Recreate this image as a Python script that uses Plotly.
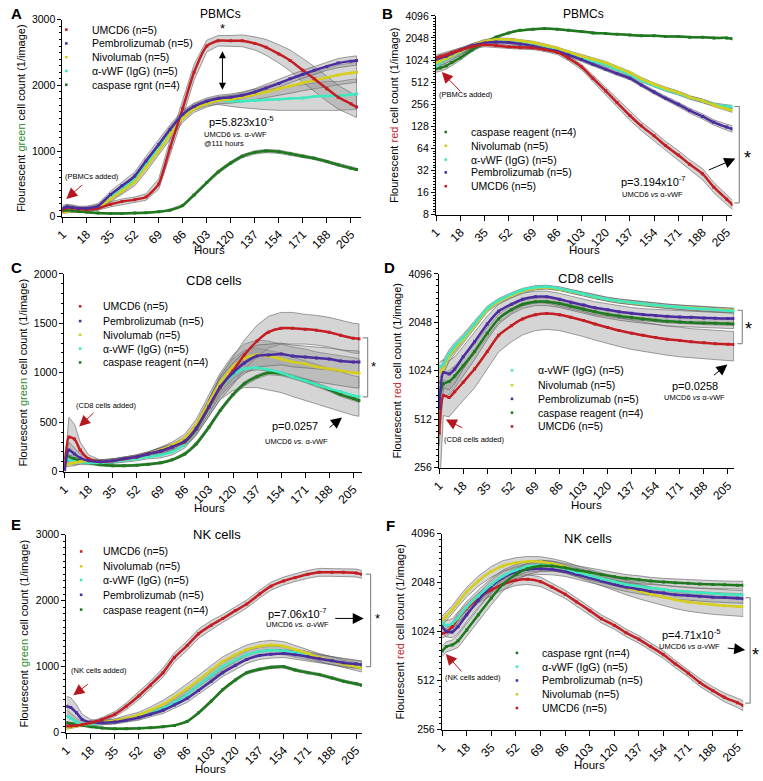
import math
import plotly.graph_objects as go

FONT = "Liberation Sans, Arial, sans-serif"
W, H = 763, 781

hours = [1, 4, 8, 12, 18, 26, 35, 43, 52, 60, 69, 77, 86, 94, 103, 111, 120, 128, 137, 145, 154, 162, 171, 179, 188, 196, 205, 209]
tick_hours = [1, 18, 35, 52, 69, 86, 103, 120, 137, 154, 171, 188, 205]

# ---------------- Panel A: PBMCs, green count ----------------
a_umcd6 = [100, 140, 130, 120, 110, 130, 190, 230, 260, 300, 500, 1050, 1650, 2200, 2600, 2680, 2680, 2680, 2640, 2580, 2480, 2380, 2230, 2100, 1950, 1820, 1720, 1670]
a_pembro = [130, 150, 140, 130, 130, 160, 340, 470, 620, 850, 1100, 1330, 1560, 1680, 1760, 1800, 1820, 1850, 1900, 1960, 2030, 2100, 2170, 2230, 2290, 2340, 2370, 2380]
a_nivo = [70, 80, 90, 100, 110, 140, 270, 390, 530, 750, 1000, 1250, 1500, 1640, 1720, 1770, 1790, 1820, 1860, 1900, 1950, 1990, 2040, 2080, 2120, 2160, 2190, 2200]
a_vwf = [100, 110, 110, 110, 115, 140, 300, 420, 570, 800, 1050, 1300, 1540, 1670, 1740, 1770, 1760, 1760, 1770, 1780, 1790, 1800, 1810, 1830, 1840, 1840, 1860, 1870]
a_casp = [90, 100, 90, 80, 70, 55, 50, 50, 55, 60, 75, 100, 170, 330, 520, 680, 820, 920, 980, 1000, 990, 960, 920, 890, 840, 790, 740, 720]
a_umcd6_e = [30, 40, 40, 30, 30, 30, 40, 40, 40, 50, 80, 120, 130, 120, 90, 80, 80, 90, 100, 120, 140, 160, 180, 190, 190, 180, 170, 160]
a_pembro_e = [40, 40, 40, 30, 30, 40, 50, 60, 60, 70, 70, 70, 60, 50, 50, 50, 50, 50, 50, 60, 60, 60, 60, 60, 60, 70, 70, 70]
a_nivo_e = [20, 20, 20, 20, 20, 30, 40, 50, 60, 70, 70, 70, 60, 50, 50, 50, 60, 70, 80, 90, 100, 110, 120, 130, 140, 150, 150, 150]
a_vwf_e = [30, 30, 30, 30, 30, 40, 50, 60, 60, 70, 70, 70, 60, 50, 50, 60, 80, 100, 130, 150, 170, 190, 200, 210, 220, 220, 230, 230]
a_casp_e = [20, 20, 15, 15, 10, 10, 10, 10, 10, 10, 10, 15, 20, 25, 25, 25, 25, 25, 25, 25, 25, 25, 20, 20, 20, 20, 20, 20]

# ---------------- Panel B: PBMCs, red count (log) ----------------
b_casp = [780, 800, 850, 950, 1100, 1400, 1750, 2100, 2400, 2600, 2700, 2750, 2700, 2600, 2500, 2400, 2350, 2300, 2250, 2200, 2200, 2150, 2150, 2100, 2100, 2050, 2050, 2000]
b_nivo = [950, 1000, 1080, 1180, 1350, 1600, 1850, 1950, 1950, 1880, 1780, 1640, 1480, 1320, 1160, 1050, 940, 810, 690, 570, 480, 420, 370, 320, 285, 250, 220, 210]
b_vwf = [850, 950, 1050, 1150, 1320, 1580, 1820, 1930, 1930, 1850, 1740, 1600, 1440, 1270, 1110, 990, 880, 760, 650, 540, 460, 405, 360, 315, 285, 255, 240, 235]
b_pembro = [1050, 1100, 1150, 1250, 1400, 1600, 1750, 1800, 1780, 1700, 1580, 1450, 1350, 1200, 1040, 900, 770, 670, 580, 470, 375, 310, 255, 210, 175, 145, 125, 118]
b_umcd6 = [1100, 1150, 1200, 1300, 1400, 1550, 1650, 1620, 1550, 1520, 1500, 1420, 1300, 1080, 830, 580, 390, 270, 180, 130, 95, 70, 52, 39, 29, 19, 13, 11]
b_casp_e = [80, 80, 80, 80, 80, 80, 80, 80, 60, 50, 50, 50, 50, 50, 40, 40, 40, 40, 40, 40, 40, 40, 40, 40, 40, 40, 40, 40]
b_nivo_e = [100, 100, 100, 100, 100, 100, 100, 90, 80, 70, 70, 60, 60, 50, 50, 40, 40, 35, 30, 25, 20, 20, 18, 15, 15, 12, 12, 12]
b_vwf_e = [100, 100, 100, 100, 100, 100, 100, 90, 80, 70, 70, 60, 60, 50, 50, 40, 40, 35, 30, 25, 20, 20, 18, 15, 15, 12, 12, 12]
b_pembro_e = [100, 100, 100, 100, 100, 100, 100, 90, 80, 80, 70, 70, 60, 60, 50, 45, 40, 35, 30, 25, 22, 20, 18, 16, 14, 12, 12, 12]
b_umcd6_e = [100, 100, 100, 100, 100, 100, 100, 90, 80, 80, 80, 80, 80, 80, 70, 60, 45, 35, 25, 18, 13, 10, 8, 6, 5, 3, 2, 1.5]

# ---------------- Panel C: CD8 cells, green count ----------------
c_umcd6 = [30, 350, 330, 220, 130, 100, 110, 130, 150, 180, 210, 250, 300, 430, 650, 850, 1020, 1180, 1320, 1410, 1450, 1450, 1440, 1430, 1410, 1380, 1350, 1345]
c_pembro = [20, 220, 180, 140, 110, 100, 110, 130, 150, 180, 210, 250, 310, 440, 660, 860, 1000, 1100, 1170, 1180, 1190, 1170, 1160, 1150, 1140, 1120, 1110, 1110]
c_nivo = [60, 80, 90, 100, 110, 100, 110, 125, 150, 180, 220, 270, 340, 480, 700, 900, 1060, 1150, 1180, 1170, 1140, 1110, 1090, 1060, 1040, 1020, 1000, 995]
c_vwf = [180, 120, 100, 95, 90, 90, 100, 115, 130, 150, 170, 200, 280, 420, 640, 850, 980, 1040, 1050, 1030, 1000, 960, 920, 880, 840, 810, 770, 760]
c_casp = [140, 150, 130, 110, 90, 70, 60, 60, 65, 75, 90, 120, 180, 280, 450, 620, 780, 890, 960, 1000, 990, 960, 920, 880, 830, 780, 740, 720]
c_umcd6_e = [10, 200, 150, 80, 40, 20, 20, 20, 20, 20, 30, 30, 40, 60, 90, 120, 140, 150, 160, 160, 160, 160, 150, 150, 150, 150, 150, 150]
c_pembro_e = [10, 80, 60, 40, 20, 20, 20, 20, 20, 20, 30, 30, 40, 50, 70, 90, 100, 110, 110, 110, 110, 110, 110, 110, 110, 110, 110, 110]
c_nivo_e = [10, 30, 30, 20, 20, 20, 20, 20, 20, 20, 30, 30, 40, 50, 80, 100, 120, 140, 150, 150, 150, 150, 150, 150, 150, 150, 150, 150]
c_vwf_e = [10, 40, 30, 20, 20, 20, 20, 20, 20, 20, 30, 30, 40, 50, 80, 120, 160, 190, 200, 200, 200, 200, 200, 200, 200, 200, 200, 200]
c_casp_e = [10, 20, 20, 15, 10, 10, 10, 10, 10, 10, 10, 10, 15, 20, 20, 20, 20, 20, 20, 20, 20, 20, 20, 20, 20, 20, 20, 20]

# ---------------- Panel D: CD8 cells, red count (log) ----------------
d_vwf = [1080, 1120, 1300, 1450, 1650, 2000, 2500, 2800, 3050, 3250, 3380, 3400, 3320, 3200, 3070, 2950, 2850, 2780, 2720, 2670, 2620, 2580, 2540, 2500, 2480, 2450, 2420, 2410]
d_nivo = [1000, 1060, 1250, 1400, 1600, 1950, 2450, 2750, 3000, 3200, 3340, 3370, 3300, 3180, 3060, 2940, 2840, 2770, 2710, 2660, 2610, 2570, 2540, 2510, 2490, 2460, 2440, 2430]
d_pembro = [600, 1000, 980, 1050, 1250, 1550, 2000, 2400, 2650, 2850, 2950, 2950, 2850, 2730, 2620, 2520, 2450, 2380, 2330, 2290, 2260, 2230, 2210, 2200, 2180, 2170, 2160, 2160]
d_casp = [700, 850, 880, 950, 1100, 1350, 1750, 2150, 2450, 2650, 2750, 2750, 2680, 2580, 2470, 2380, 2300, 2240, 2190, 2150, 2110, 2080, 2060, 2040, 2030, 2020, 2010, 2000]
d_umcd6 = [420, 720, 700, 760, 870, 1050, 1350, 1700, 1950, 2150, 2280, 2320, 2280, 2200, 2100, 2000, 1900, 1820, 1750, 1700, 1650, 1610, 1580, 1550, 1530, 1510, 1495, 1490]
d_vwf_e = [80, 80, 80, 80, 80, 80, 80, 80, 80, 80, 80, 80, 80, 80, 80, 80, 80, 80, 80, 80, 80, 80, 80, 80, 80, 80, 80, 80]
d_nivo_e = [80, 80, 80, 80, 80, 80, 80, 80, 80, 80, 80, 80, 80, 80, 80, 80, 80, 80, 80, 80, 80, 80, 80, 80, 80, 80, 80, 80]
d_pembro_e = [250, 200, 200, 200, 200, 220, 240, 250, 250, 250, 250, 250, 250, 250, 240, 230, 220, 210, 200, 200, 200, 200, 200, 200, 200, 200, 200, 200]
d_casp_e = [150, 150, 150, 150, 150, 150, 150, 150, 150, 150, 150, 150, 150, 150, 140, 140, 130, 130, 130, 130, 130, 130, 130, 130, 130, 130, 130, 130]
d_umcd6_e = [250, 180, 170, 180, 200, 250, 300, 360, 400, 440, 460, 470, 460, 450, 430, 410, 390, 370, 360, 350, 340, 330, 330, 320, 320, 310, 310, 310]

# ---------------- Panel E: NK cells, green count ----------------
e_umcd6 = [100, 100, 110, 120, 150, 200, 280, 400, 560, 720, 910, 1140, 1320, 1500, 1630, 1730, 1850, 1950, 2100, 2220, 2300, 2350, 2400, 2430, 2430, 2430, 2420, 2400]
e_nivo = [70, 90, 100, 120, 150, 160, 180, 220, 270, 340, 430, 540, 670, 800, 950, 1080, 1180, 1260, 1310, 1330, 1310, 1260, 1200, 1140, 1090, 1040, 1000, 980]
e_vwf = [250, 220, 160, 130, 130, 150, 170, 200, 240, 300, 370, 460, 580, 720, 870, 1000, 1100, 1180, 1230, 1250, 1240, 1210, 1170, 1130, 1090, 1060, 1030, 1020]
e_pembro = [400, 380, 300, 200, 160, 150, 160, 190, 230, 280, 340, 420, 520, 640, 780, 910, 1020, 1110, 1170, 1190, 1200, 1180, 1150, 1120, 1090, 1060, 1040, 1030]
e_casp = [150, 140, 130, 110, 90, 70, 60, 60, 65, 75, 90, 110, 170, 300, 480, 650, 800, 910, 960, 990, 1000, 950, 910, 880, 830, 780, 740, 720]
e_umcd6_e = [20, 20, 20, 20, 20, 30, 40, 50, 60, 60, 70, 70, 70, 70, 70, 60, 60, 60, 60, 60, 60, 60, 60, 60, 60, 60, 60, 60]
e_nivo_e = [20, 20, 20, 20, 20, 20, 30, 40, 40, 50, 60, 60, 70, 70, 70, 70, 70, 70, 70, 70, 70, 60, 60, 60, 60, 60, 60, 60]
e_vwf_e = [100, 80, 60, 40, 30, 30, 30, 30, 40, 40, 50, 50, 60, 60, 60, 60, 60, 60, 60, 60, 60, 60, 60, 60, 60, 60, 60, 60]
e_pembro_e = [150, 150, 120, 80, 40, 30, 30, 30, 40, 40, 50, 50, 60, 60, 60, 60, 60, 60, 60, 60, 60, 60, 60, 60, 60, 60, 60, 60]
e_casp_e = [20, 20, 15, 15, 10, 10, 10, 10, 10, 10, 10, 10, 15, 20, 20, 20, 20, 20, 20, 20, 20, 20, 20, 20, 20, 20, 20, 20]

# ---------------- Panel F: NK cells, red count (log) ----------------
f_casp = [780, 830, 850, 900, 1050, 1300, 1650, 2000, 2300, 2500, 2600, 2600, 2530, 2450, 2380, 2300, 2230, 2180, 2140, 2100, 2070, 2050, 2030, 2010, 2000, 1990, 1980, 1980]
f_vwf = [1170, 1120, 1150, 1250, 1450, 1700, 2000, 2250, 2450, 2580, 2620, 2600, 2500, 2380, 2270, 2170, 2080, 2000, 1950, 1900, 1860, 1830, 1800, 1780, 1760, 1740, 1730, 1720]
f_pembro = [1100, 1030, 1020, 1100, 1300, 1600, 1950, 2200, 2380, 2480, 2500, 2470, 2400, 2300, 2200, 2100, 2000, 1930, 1870, 1810, 1770, 1730, 1710, 1690, 1670, 1660, 1650, 1640]
f_nivo = [1200, 1280, 1400, 1550, 1800, 2100, 2400, 2600, 2720, 2770, 2760, 2680, 2560, 2420, 2280, 2150, 2030, 1920, 1820, 1740, 1670, 1610, 1560, 1530, 1500, 1480, 1465, 1460]
f_umcd6 = [1000, 1020, 1100, 1250, 1420, 1650, 1850, 2000, 2120, 2150, 2080, 1920, 1740, 1560, 1380, 1230, 1120, 1010, 920, 830, 740, 650, 570, 500, 445, 405, 375, 360]
f_casp_e = [60, 60, 60, 80, 100, 120, 150, 180, 200, 200, 200, 180, 160, 150, 140, 130, 120, 120, 120, 110, 110, 110, 110, 110, 110, 110, 110, 110]
f_vwf_e = [80, 80, 80, 100, 120, 150, 180, 200, 200, 200, 200, 180, 160, 150, 140, 130, 120, 120, 120, 110, 110, 110, 110, 110, 110, 110, 110, 110]
f_pembro_e = [80, 80, 80, 100, 120, 150, 180, 200, 200, 200, 200, 180, 160, 150, 140, 130, 120, 120, 120, 110, 110, 110, 110, 110, 110, 110, 110, 110]
f_nivo_e = [80, 80, 80, 100, 120, 150, 180, 200, 200, 200, 200, 200, 200, 190, 190, 190, 190, 190, 190, 190, 190, 190, 190, 190, 190, 190, 190, 190]
f_umcd6_e = [60, 60, 70, 80, 100, 120, 140, 150, 150, 150, 140, 120, 100, 90, 80, 70, 60, 55, 50, 45, 40, 35, 30, 28, 25, 25, 25, 25]

COL = {
    "umcd6": "#C41E25",
    "pembro": "#4B2D9F",
    "nivo": "#D6CE1E",
    "vwf": "#40E8C0",
    "casp": "#1F7A1F",
}

def px(x):
    return x / W

def py(y):
    return 1 - y / H

panels = [
    dict(n=1, letter="A", title="PBMCs", tsize=12, tpos=(215, 8), lpos=(1, 8), hpos=(204, 248),
         dom=((55, 357), (14, 214)), xr=[0.8, 212], log=False, yr=[0, 3000], yt=[0, 1000, 2000, 3000], minor=100,
         ytitle="green",
         series=[("vwf", a_vwf, a_vwf_e), ("nivo", a_nivo, a_nivo_e), ("casp", a_casp, a_casp_e),
                 ("umcd6", a_umcd6, a_umcd6_e), ("pembro", a_pembro, a_pembro_e)],
         legend=[("umcd6", "UMCD6 (n=5)"), ("pembro", "Pembrolizumab (n=5)"), ("nivo", "Nivolumab (n=5)"),
                 ("vwf", "α-vWF (IgG) (n=5)"), ("casp", "caspase rgnt (n=4)")],
         leg_x=(59, 83), leg_y=[24, 38, 52, 66, 80]),
    dict(n=2, letter="B", title="PBMCs", tsize=12, tpos=(582, 8), lpos=(376, 8), hpos=(583, 248),
         dom=((433, 733), (10, 212)), xr=[0.8, 209], log=True, yr=[8, 4096], yt=[8, 16, 32, 64, 128, 256, 512, 1024, 2048, 4096],
         ytitle="red",
         series=[("casp", b_casp, b_casp_e), ("vwf", b_vwf, b_vwf_e), ("nivo", b_nivo, b_nivo_e),
                 ("pembro", b_pembro, b_pembro_e), ("umcd6", b_umcd6, b_umcd6_e)],
         legend=[("casp", "caspase reagent (n=4)"), ("nivo", "Nivolumab (n=5)"), ("vwf", "α-vWF (IgG) (n=5)"),
                 ("pembro", "Pembrolizumab (n=5)"), ("umcd6", "UMCD6 (n=5)")],
         leg_x=(443, 466), leg_y=[128, 142, 156, 169, 183]),
    dict(n=3, letter="C", title="CD8 cells", tsize=13, tpos=(208, 279), lpos=(1, 266), hpos=(204, 510),
         dom=((57, 358), (272, 473)), xr=[0.8, 211], log=False, yr=[0, 2000], yt=[0, 500, 1000, 1500, 2000], minor=100,
         ytitle="green",
         series=[("casp", c_casp, c_casp_e), ("vwf", c_vwf, c_vwf_e), ("nivo", c_nivo, c_nivo_e),
                 ("umcd6", c_umcd6, c_umcd6_e), ("pembro", c_pembro, c_pembro_e)],
         legend=[("umcd6", "UMCD6 (n=5)"), ("pembro", "Pembrolizumab (n=5)"), ("nivo", "Nivolumab (n=5)"),
                 ("vwf", "α-vWF (IgG) (n=5)"), ("casp", "caspase reagent (n=4)")],
         leg_x=(73, 94), leg_y=[305, 320, 334, 348, 362]),
    dict(n=4, letter="D", title="CD8 cells", tsize=13, tpos=(585, 277), lpos=(378, 266), hpos=(585, 507),
         dom=((436, 735), (272, 469)), xr=[0.8, 209.5], log=True, yr=[256, 4096], yt=[256, 512, 1024, 2048, 4096],
         ytitle="red",
         series=[("umcd6", d_umcd6, d_umcd6_e), ("casp", d_casp, d_casp_e), ("pembro", d_pembro, d_pembro_e),
                 ("nivo", d_nivo, d_nivo_e), ("vwf", d_vwf, d_vwf_e)],
         legend=[("vwf", "α-vWF (IgG) (n=5)"), ("nivo", "Nivolumab (n=5)"), ("pembro", "Pembrolizumab (n=5)"),
                 ("casp", "caspase reagent (n=4)"), ("umcd6", "UMCD6 (n=5)")],
         leg_x=(510, 534), leg_y=[370, 385, 399, 413, 427]),
    dict(n=5, letter="E", title="NK cells", tsize=13, tpos=(212, 537), lpos=(1, 527), hpos=(205, 775),
         dom=((59, 358), (537, 738)), xr=[0.8, 209], log=False, yr=[0, 3000], yt=[0, 1000, 2000, 3000], minor=100,
         ytitle="green",
         series=[("casp", e_casp, e_casp_e), ("vwf", e_vwf, e_vwf_e), ("nivo", e_nivo, e_nivo_e),
                 ("pembro", e_pembro, e_pembro_e), ("umcd6", e_umcd6, e_umcd6_e)],
         legend=[("umcd6", "UMCD6 (n=5)"), ("nivo", "Nivolumab (n=5)"), ("vwf", "α-vWF (IgG) (n=5)"),
                 ("pembro", "Pembrolizumab (n=5)"), ("casp", "caspase reagent (n=4)")],
         leg_x=(74, 94), leg_y=[554, 569, 583, 598, 613]),
    dict(n=6, letter="F", title="NK cells", tsize=13, tpos=(587, 541), lpos=(380, 528), hpos=(588, 771),
         dom=((439, 744), (536, 735)), xr=[0.8, 209], log=True, yr=[256, 4096], yt=[256, 512, 1024, 2048, 4096],
         ytitle="red",
         series=[("umcd6", f_umcd6, f_umcd6_e), ("nivo", f_nivo, f_nivo_e), ("pembro", f_pembro, f_pembro_e),
                 ("vwf", f_vwf, f_vwf_e), ("casp", f_casp, f_casp_e)],
         legend=[("casp", "caspase rgnt (n=4)"), ("vwf", "α-vWF (IgG) (n=5)"), ("pembro", "Pembrolizumab (n=5)"),
                 ("nivo", "Nivolumab (n=5)"), ("umcd6", "UMCD6 (n=5)")],
         leg_x=(515, 538), leg_y=[657, 671, 685, 699, 713]),
]

fig = go.Figure()
annotations = []
shapes = []
layout = {}

def txt(x, y, s, size=11, xa="center", color="black"):
    return dict(x=px(x), y=py(y), xref="paper", yref="paper", text=s, showarrow=False,
                xanchor=xa, yanchor="middle", font=dict(size=size, color=color, family=FONT))

def arrow(tip, tail, color="black", both=False, size=1.6):
    return dict(x=px(tip[0]), y=py(tip[1]), xref="paper", yref="paper",
                ax=tail[0] - tip[0], ay=tail[1] - tip[1], text="", showarrow=True,
                arrowhead=2, arrowsize=size, arrowwidth=1, arrowcolor=color,
                arrowside="end+start" if both else "end")

def bracket(x, y1, y2, tick=5):
    out = []
    for (a, b, c, d) in [(x, y1, x, y2), (x - tick, y1, x, y1), (x - tick, y2, x, y2)]:
        out.append(dict(type="line", xref="paper", yref="paper", x0=px(a), y0=py(b), x1=px(c), y1=py(d),
                        line=dict(color="#777777", width=1)))
    return out

for p in panels:
    n = p["n"]
    xa_name = "xaxis" if n == 1 else f"xaxis{n}"
    ya_name = "yaxis" if n == 1 else f"yaxis{n}"
    xref = "x" if n == 1 else f"x{n}"
    yref = "y" if n == 1 else f"y{n}"
    (x0, x1), (y0, y1) = p["dom"]
    for key, vals, errs in p["series"]:
        up = [v + e for v, e in zip(vals, errs)]
        lo = [max(v - e, 1e-3) for v, e in zip(vals, errs)]
        fig.add_trace(go.Scatter(x=hours + hours[::-1], y=up + lo[::-1], fill="toself",
                                 fillcolor="rgba(150,150,150,0.40)",
                                 line=dict(color="rgba(95,95,95,0.75)", width=0.8),
                                 mode="lines", hoverinfo="skip", showlegend=False,
                                 xaxis=xref, yaxis=yref))
    for key, vals, errs in p["series"]:
        fig.add_trace(go.Scatter(x=hours, y=vals, mode="lines+markers",
                                 line=dict(color=COL[key], width=2.5, shape="spline", smoothing=0.6),
                                 marker=dict(color=COL[key], size=3, symbol="square"),
                                 showlegend=False, xaxis=xref, yaxis=yref))
    layout[xa_name] = dict(domain=[px(x0), px(x1)], anchor=yref, range=p["xr"],
                           tickmode="array", tickvals=tick_hours, ticktext=[str(t) for t in tick_hours],
                           tickangle=-45, ticks="outside", ticklen=5, tickcolor="black",
                           showline=True, linecolor="black", linewidth=1, showgrid=False, zeroline=False,
                           tickfont=dict(size=12, color="black", family=FONT))
    annotations.append(txt(p["hpos"][0], p["hpos"][1], "Hours", size=11.5))
    col = "#2E8B2E" if p["ytitle"] == "green" else "#C0282D"
    ytitle = f"Flourescent <span style='color:{col}'>{p['ytitle']}</span> cell count (1/image)"
    yax = dict(domain=[py(y1), py(y0)], anchor=xref, ticks="outside", ticklen=4, tickcolor="black",
               showline=True, linecolor="black", linewidth=1, showgrid=False, zeroline=False,
               tickfont=dict(size=10.5, color="black", family=FONT),
               title=dict(text=ytitle, font=dict(size=11, color="black", family=FONT), standoff=4))
    if p["log"]:
        lo_e = math.log2(p["yr"][0])
        hi_e = math.log2(p["yr"][1])
        minor_vals = [2 ** (k + i / 8) for k in range(int(lo_e), int(hi_e)) for i in range(1, 8)]
        yax.update(type="log", range=[math.log10(p["yr"][0]), math.log10(p["yr"][1])],
                   tickmode="array", tickvals=p["yt"], ticktext=[str(t) for t in p["yt"]],
                   minor=dict(tickmode="array", tickvals=minor_vals, ticks="outside", ticklen=2, tickcolor="black"))
    else:
        yax.update(range=p["yr"], tickmode="array", tickvals=p["yt"], ticktext=[str(t) for t in p["yt"]],
                   minor=dict(tickmode="linear", tick0=0, dtick=p["minor"], ticks="outside", ticklen=2, tickcolor="black"))
    layout[ya_name] = yax
    annotations.append(txt(p["tpos"][0], p["tpos"][1], p["title"], size=p["tsize"]))
    annotations.append(txt(p["lpos"][0], p["lpos"][1], f"<b>{p['letter']}</b>", size=15, xa="left"))
    dx, tx = p["leg_x"]
    for (key, label), yy in zip(p["legend"], p["leg_y"]):
        shapes.append(dict(type="rect", xref="paper", yref="paper", x0=px(dx - 1.3), x1=px(dx + 1.3),
                           y0=py(yy + 1.3), y1=py(yy - 1.3), fillcolor=COL[key], line=dict(width=0)))
        annotations.append(txt(tx, yy, label, size=10.5, xa="left"))

RED = "#B5171E"
annotations += [
    txt(217, 23, "*", size=13),
    arrow((217, 46), (217, 86), both=True, size=1.4),
    txt(201, 117, "p=5.823x10<sup>-5</sup>", size=11, xa="left"),
    txt(196, 130, "UMCD6 <i>vs.</i> α-vWF", size=7.5, xa="left"),
    txt(196, 140, "@111 hours", size=7.5, xa="left"),
    txt(85, 173, "(PBMCs added)", size=7.5),
    arrow((59, 196), (76, 181), color=RED, size=2.2),
]
annotations += [
    txt(463, 90, "(PBMCs added)", size=7.5),
    arrow((439, 67), (459, 88), color=RED, size=2.2),
    txt(653, 178, "p=3.194x10<sup>-7</sup>", size=11),
    txt(652, 191, "UMCD6 <i>vs</i> α-vWF", size=7.5),
    arrow((736, 155), (708, 167), size=2.2),
    txt(748, 154, "*", size=18),
]
shapes += bracket(740, 102, 200)
annotations += [
    txt(100, 406, "(CD8 cells added)", size=7.5),
    arrow((72, 427), (88, 412), color=RED, size=2.2),
    txt(290, 427, "p=0.0257", size=11),
    txt(292, 442, "UMCD6 <i>vs.</i> α-vWF", size=7.5),
    arrow((338, 418), (324, 429), size=2.2),
    txt(370, 366, "*", size=13),
]
shapes += bracket(364, 337, 397)
annotations += [
    txt(472, 440, "(CD8 cells added)", size=7.5),
    arrow((443, 420), (461, 429), color=RED, size=2.2),
    txt(695, 386, "p=0.0258", size=11),
    txt(695, 398, "UMCD6 <i>vs</i> α-vWF", size=7.5),
    arrow((728, 364), (713, 376), size=2.2),
    txt(749, 328, "*", size=18),
]
shapes += bracket(743, 309, 343)
annotations += [
    txt(92, 675, "(NK cells added)", size=7.5),
    arrow((66, 700), (82, 688), color=RED, size=2.2),
    txt(293, 616, "p=7.06x10<sup>-7</sup>", size=11),
    txt(293, 628, "UMCD6 <i>vs.</i> α-vWF", size=7.5),
    arrow((360, 622), (330, 622), size=2.2),
    txt(374, 622, "*", size=13),
]
shapes += bracket(367, 577, 671)
annotations += [
    txt(471, 682, "(NK cells added)", size=7.5),
    arrow((443, 658), (460, 677), color=RED, size=2.2),
    txt(692, 638, "p=4.71x10<sup>-5</sup>", size=11),
    txt(690, 651, "UMCD6 <i>vs</i> α-vWF", size=7.5),
    arrow((746, 654), (727, 652), size=2.2),
    txt(756, 659, "*", size=18),
]
shapes += bracket(751, 601, 708)

fig.update_layout(
    width=W, height=H, margin=dict(l=0, r=0, t=0, b=0),
    paper_bgcolor="white", plot_bgcolor="white",
    font=dict(family=FONT, color="black"),
    showlegend=False, annotations=annotations, shapes=shapes, **layout,
)

fig.write_html("out.html", config={"displayModeBar": False},
               post_script="document.body.style.margin='0px';document.body.style.overflow='hidden';")
